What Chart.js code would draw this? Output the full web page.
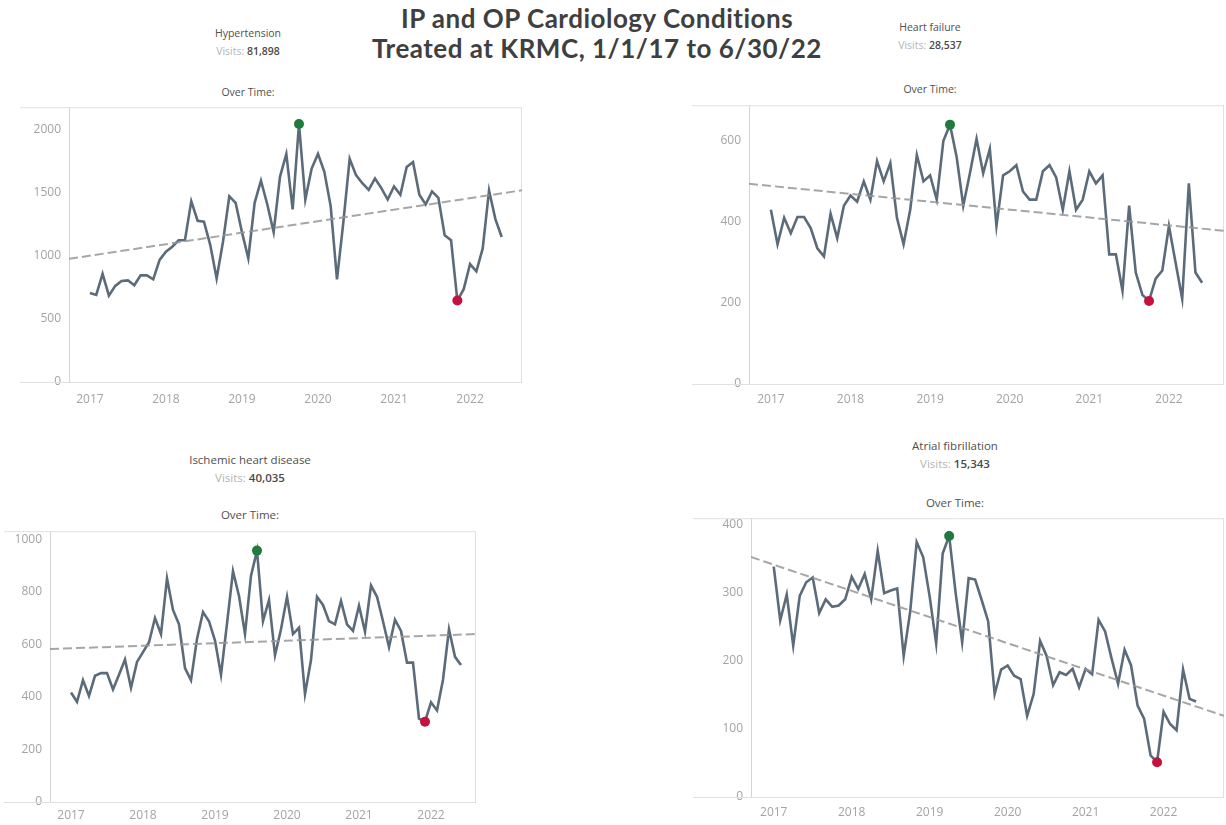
<!DOCTYPE html>
<html>
<head>
<meta charset="utf-8">
<title>IP and OP Cardiology Conditions</title>
<script src="https://cdn.jsdelivr.net/npm/chart.js@4.4.1/dist/chart.umd.min.js"></script>
<style>
  html, body { margin: 0; padding: 0; background: #fff; }
  body { width: 1226px; height: 825px; position: relative; overflow: hidden; font-family: 'Open Sans', sans-serif; }
  .title { position: absolute; left: 297px; top: 3px; width: 600px; text-align: center; font-family: Lato, sans-serif;
           font-weight: 700; font-size: 26px; letter-spacing: 0.5px; line-height: 30px; color: #3f3f3f; }
  .hd { position: absolute; width: 260px; text-align: center; color: #4f4f4f; line-height: 18px; white-space: nowrap; }
  .hd .lbl { color: #b5b5b5; }
  .hd b { font-weight: 600; color: #4a4a4a; }
  canvas { position: absolute; }
</style>
</head>
<body>
<div class="title">IP and OP Cardiology Conditions<br>Treated at KRMC, 1/1/17 to 6/30/22</div>

<script>
// --- Data (monthly visits, Jan 2017 .. Jun 2022) ---
const yearLabels = ['2017', '2018', '2019', '2020', '2021', '2022'];

const htnVisits = [704, 689, 857, 684, 761, 800, 805, 766, 844, 844, 813, 967,
    1032, 1071, 1122, 1122, 1432, 1277, 1269, 1084, 820, 1109, 1470, 1419,
    1187, 980, 1419, 1594, 1406, 1187, 1625, 1806, 1367, 2043, 1445, 1690,
    1806, 1664, 1393, 813, 1264, 1767, 1638, 1574, 1522, 1612, 1535, 1445,
    1548, 1483, 1703, 1742, 1483, 1406, 1509, 1458, 1161, 1122, 645, 735,
    934, 877, 1058, 1517, 1290, 1148];

const hfVisits = [430, 345, 410, 372, 412, 412, 385, 335, 315, 420, 360, 440,
    465, 450, 500, 455, 550, 500, 545, 410, 345, 430, 565, 500,
    515, 455, 600, 640, 560, 440, 520, 605, 520, 580, 390, 515,
    525, 540, 475, 455, 455, 525, 540, 510, 430, 525, 430, 455,
    525, 495, 515, 320, 320, 230, 440, 275, 220, 205, 260, 280,
    390, 300, 210, 495, 275, 250];

const ihdVisits = [417, 382, 464, 404, 481, 491, 491, 429, 485, 543, 435, 534,
    571, 609, 701, 640, 852, 732, 677, 510, 464, 621, 724, 689,
    615, 485, 680, 880, 785, 640, 862, 958, 689, 770, 559, 658,
    782, 640, 664, 411, 541, 782, 751, 689, 677, 766, 677, 652,
    748, 649, 825, 782, 689, 590, 695, 652, 531, 531, 318, 306,
    380, 349, 466, 658, 553, 522];

const afibVisits = [338, 259, 297, 222, 295, 315, 322, 270, 290, 279, 281, 290,
    323, 305, 327, 290, 361, 299, 303, 306, 207, 272, 374, 352,
    294, 225, 357, 383, 299, 227, 321, 319, 289, 258, 151, 187,
    193, 178, 173, 119, 151, 229, 207, 164, 183, 179, 188, 161,
    188, 180, 260, 243, 203, 166, 216, 193, 134, 115, 61, 51,
    125, 107, 98, 187, 144, 140];

// trend line values at the left and right edge of each plot
const htnTrend = [975, 1518];
const hfTrend = [494, 378];
const ihdTrend = [583, 640];
const afibTrend = [352, 119];

const conditionNames = ['Hypertension', 'Heart failure', 'Ischemic heart disease', 'Atrial fibrillation'];
const visitTotals = ['81,898', '28,537', '40,035', '15,343'];

// --- Layout of the four panels ---
const panels = [
    { values: htnVisits, trend: htnTrend, yMax: 2176, yStep: 500, xMin: -3.3, xMax: 68.2,
      box: { left: 20, top: 92, width: 504, height: 320 }, axisW: 49, axisH: 30, xPad: 10,
      head: { x: 248, y: 24 }, over: 83, font: 10.5 },
    { values: hfVisits, trend: hfTrend, yMax: 688, yStep: 200, xMin: -3.3, xMax: 68.3,
      box: { left: 692, top: 90, width: 534, height: 324 }, axisW: 57, axisH: 30, xPad: 8,
      head: { x: 930, y: 18 }, over: 80, font: 10.5 },
    { values: ihdVisits, trend: ihdTrend, yMax: 1032, yStep: 200, xMin: -3.5, xMax: 67.5,
      box: { left: 4, top: 516, width: 474, height: 308 }, axisW: 46, axisH: 22, xPad: 6,
      head: { x: 250, y: 451 }, over: 506, font: 11.5 },
    { values: afibVisits, trend: afibTrend, yMax: 409, yStep: 100, xMin: -3.5, xMax: 69.3,
      box: { left: 693, top: 503, width: 533, height: 321 }, axisW: 58, axisH: 27, xPad: 8,
      head: { x: 955, y: 437 }, over: 494, font: 11.5 }
];

const LINE = '#5b6b79';
const HIGH = '#1f7a3d';
const LOW = '#c4123d';
const TICK = '#a3a3a3';

// light frame round each plot (top, bottom, right), like the dashboard sheets
const framePlugin = {
    id: 'frame',
    beforeDatasetsDraw(chart) {
        const { ctx, chartArea: a } = chart;
        ctx.save();
        ctx.strokeStyle = '#e0e0e0';
        ctx.lineWidth = 1;
        ctx.beginPath();
        ctx.moveTo(0, a.top + 0.5); ctx.lineTo(a.right, a.top + 0.5);
        ctx.moveTo(0, a.bottom + 0.5); ctx.lineTo(a.right, a.bottom + 0.5);
        ctx.moveTo(a.right - 0.5, a.top); ctx.lineTo(a.right - 0.5, a.bottom);
        ctx.stroke();
        ctx.restore();
    }
};

panels.forEach((p, i) => {
    // headers
    const hd = document.createElement('div');
    hd.className = 'hd';
    hd.style.left = (p.head.x - 130) + 'px';
    hd.style.top = p.head.y + 'px';
    hd.style.fontSize = p.font + 'px';
    hd.innerHTML = conditionNames[i] + '<br><span class="lbl">Visits:</span> <b>' + visitTotals[i] + '</b>';
    document.body.appendChild(hd);

    const ot = document.createElement('div');
    ot.className = 'hd';
    ot.style.left = (p.head.x - 130) + 'px';
    ot.style.top = p.over + 'px';
    ot.style.fontSize = p.font + 'px';
    ot.textContent = 'Over Time:';
    document.body.appendChild(ot);

    const canvas = document.createElement('canvas');
    canvas.width = p.box.width;
    canvas.height = p.box.height;
    canvas.style.left = p.box.left + 'px';
    canvas.style.top = p.box.top + 'px';
    canvas.style.width = p.box.width + 'px';
    canvas.style.height = p.box.height + 'px';
    document.body.appendChild(canvas);

    const maxIdx = p.values.indexOf(Math.max(...p.values));
    const minIdx = p.values.indexOf(Math.min(...p.values));

    new Chart(canvas, {
        type: 'line',
        data: {
            datasets: [{
                label: 'Visits',
                data: p.values.map((v, m) => ({ x: m, y: v })),
                borderColor: LINE,
                borderWidth: 2.6,
                tension: 0,
                order: 1,
                pointRadius: c => (c.dataIndex === maxIdx || c.dataIndex === minIdx) ? 5 : 0,
                pointBackgroundColor: c => c.dataIndex === maxIdx ? HIGH : LOW,
                pointBorderWidth: 0
            }, {
                label: 'Trend',
                data: [{ x: p.xMin, y: p.trend[0] }, { x: p.xMax, y: p.trend[1] }],
                borderColor: 'rgba(150,150,150,0.85)',
                borderWidth: 2,
                borderDash: [9, 4],
                pointRadius: 0,
                order: 0
            }]
        },
        options: {
            responsive: false,
            devicePixelRatio: 1,
            animation: false,
            layout: { padding: { top: 10, right: 2, left: 0, bottom: 0 } },
            plugins: { legend: { display: false }, tooltip: { enabled: false } },
            scales: {
                x: {
                    type: 'linear',
                    min: p.xMin,
                    max: p.xMax,
                    afterFit: s => { s.height = p.axisH; },
                    afterBuildTicks: s => { s.ticks = yearLabels.map((l, k) => ({ value: k * 12 })); },
                    grid: { display: false, drawTicks: false },
                    border: { display: false },
                    ticks: {
                        padding: p.xPad,
                        color: TICK,
                        font: { family: 'Open Sans', size: 12 },
                        maxRotation: 0,
                        callback: v => yearLabels[v / 12]
                    }
                },
                y: {
                    min: 0,
                    max: p.yMax,
                    afterFit: s => { s.width = p.axisW; },
                    afterBuildTicks: s => {
                        const t = [];
                        for (let v = 0; v <= p.yMax; v += p.yStep) t.push({ value: v });
                        s.ticks = t;
                    },
                    grid: { display: false, drawTicks: false },
                    border: { display: true, color: '#d4d4d4' },
                    ticks: {
                        padding: 8,
                        color: TICK,
                        font: { family: 'Open Sans', size: 12 },
                        callback: v => String(v)
                    }
                }
            }
        },
        plugins: [framePlugin]
    });
});
</script>
</body>
</html>
